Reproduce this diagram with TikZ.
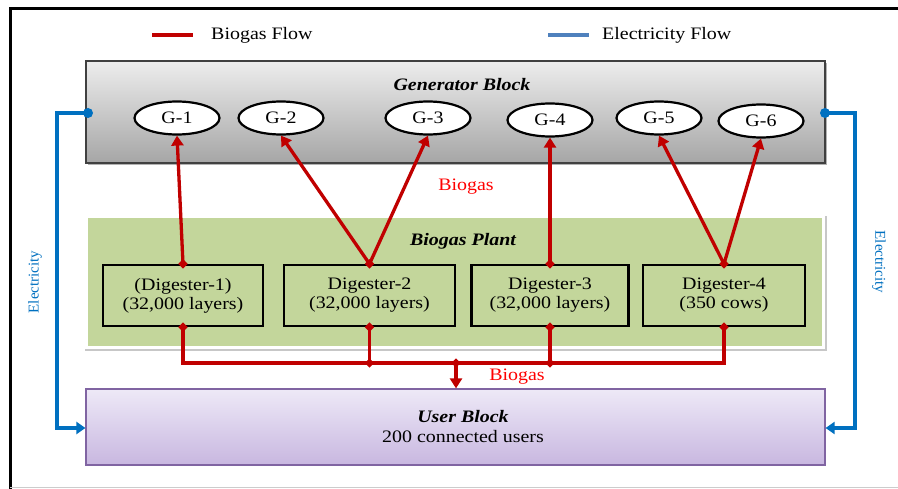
\documentclass[tikz,border=0pt]{standalone}
\usepackage{fontspec}
\setmainfont[FakeStretch=1.14]{Liberation Serif}
\newfontfamily\elfont{Liberation Serif}
\usetikzlibrary{arrows.meta,shapes.geometric}
\definecolor{bgred}{RGB}{192,0,0}
\definecolor{txtred}{RGB}{255,0,0}
\definecolor{elblue}{RGB}{0,112,192}
\definecolor{legblue}{RGB}{79,129,189}
\definecolor{plantgreen}{RGB}{195,214,155}
\definecolor{userborder}{RGB}{128,100,162}
\definecolor{usertop}{RGB}{238,233,247}
\definecolor{userbot}{RGB}{200,183,224}
\begin{document}
\begin{tikzpicture}[x=1pt,y=-1pt,
  txt/.style={font=\fontsize{17.5}{19}\selectfont, inner sep=0pt},
  ttl/.style={font=\fontsize{17.5}{19}\selectfont\bfseries\itshape, inner sep=0pt},
  gen/.style={ellipse, draw, line width=2.2pt, fill=white, minimum width=85pt, minimum height=33pt, inner sep=0pt, font=\fontsize{17.5}{19}\selectfont},
  dig/.style={rectangle, draw, line width=2.2pt, minimum height=61pt, align=center, inner sep=0pt, font=\fontsize{17.5}{19}\selectfont},
  jn/.style={diamond, fill=bgred, inner sep=0pt, minimum size=9.5pt},
  gas/.style={draw=bgred, line width=3.3pt},
  gasarrow/.style={gas, -{Triangle[length=10pt,width=12pt]}},
  elec/.style={draw=elblue, line width=3.2pt},
  elecarrow/.style={elec, -{Triangle[length=9pt,width=12pt]}},
  eltxt/.style={font=\elfont\fontsize{15}{17}\selectfont, text=elblue, inner sep=0pt}
]
\useasboundingbox (0,0) rectangle (898,489);
\fill[white] (0,0) rectangle (898,489);
% outer frame
\draw[line width=3pt] (10,489) -- (10,9) -- (898,9);
\draw[black!20, line width=1pt] (10,487.5) -- (898,487.5);

% legend
\draw[gas] (152,35) -- (193,35);
\node[txt, anchor=west] (legb) at (211,35) {Biogas Flow};
\draw[legblue, line width=3.3pt] (548,35) -- (589,35);
\node[txt, anchor=west] (lege) at (602,35) {Electricity Flow};

% generator block
\fill[black!30] (88,63) rectangle (827,165);
\node[draw=black!75, line width=1.2pt, top color=black!7, bottom color=black!35, minimum width=739pt, minimum height=102pt, inner sep=0pt] (genblk) at (455.5,112) {};
\node[ttl] (gentitle) at (462,85) {Generator Block};
\node[gen] (G1) at (177,118) {G-1};
\node[gen] (G2) at (281,118) {G-2};
\node[gen] (G3) at (428,118) {G-3};
\node[gen] (G4) at (550,120) {G-4};
\node[gen] (G5) at (659,118) {G-5};
\node[gen] (G6) at (761,121) {G-6};

% biogas plant
\fill[black!22] (85,216) rectangle (827,351);
\node[fill=white, minimum width=742pt, minimum height=135pt, inner sep=0pt] (plantframe) at (454,281.5) {};
\node[fill=plantgreen, minimum width=734pt, minimum height=128pt, inner sep=0pt] (plant) at (455,282) {};
\node[ttl] (planttitle) at (463,241) {Biogas Plant};
\node[dig, minimum width=160pt] (D1) at (183,295.5) {(Digester-1)\\(32,000 layers)};
\node[dig, minimum width=171pt] (D2) at (369.5,295.5) {Digester-2\\(32,000 layers)};
\node[dig, minimum width=157pt] (D3) at (550,295.5) {Digester-3\\(32,000 layers)};
\node[dig, minimum width=162pt] (D4) at (724,295.5) {Digester-4\\(350 cows)};

% user block
\node[draw=userborder, line width=1.2pt, top color=usertop, bottom color=userbot, minimum width=739pt, minimum height=76pt, inner sep=0pt] (user) at (455.5,427) {};
\node[ttl] (usertitle) at (463,417) {User Block};
\node[txt] (usertext) at (463,437) {200 connected users};

% biogas to generators
\draw[gasarrow] (D1.north) -- (G1.south);
\draw[gasarrow] (D2.north) -- (G2.south);
\draw[gasarrow] (D2.north) -- (G3.south);
\draw[gasarrow] (D3.north) -- (G4.south);
\draw[gasarrow] (D4.north) -- (G5.south);
\draw[gasarrow] (D4.north) -- (G6.south);
\node[txt, text=txtred] (bgl1) at (466,187) {Biogas};

% biogas bus to users
\coordinate (bus) at (456,363);
\draw[gas] (D1.south) |- (D4.south |- bus) -- (D4.south);
\draw[gas] (D2.south) -- (D2.south |- bus);
\draw[gas] (D3.south) -- (D3.south |- bus);
\draw[gasarrow] (bus) -- (user.north -| bus);
\node[txt, text=txtred] (bgl2) at (517,377) {Biogas};

% junction diamonds
\foreach \n in {D1,D2,D3,D4} {
  \node[jn] at (\n.north) {};
  \node[jn] at (\n.south) {};
}
\node[jn] at (D2.south |- bus) {};
\node[jn] at (D3.south |- bus) {};
\node[jn] at (bus) {};

% electricity
\node[circle, fill=elblue, minimum size=10pt, inner sep=0pt] (dl) at (88,113) {};
\node[circle, fill=elblue, minimum size=10pt, inner sep=0pt] (dr) at (825,113) {};
\coordinate (cl) at (57,428);
\coordinate (cr) at (855,428);
\draw[elecarrow] (dl.center) -| (cl) -- (user.west |- cl);
\draw[elecarrow] (dr.center) -| (cr) -- (user.east |- cr);
\node[eltxt, rotate=90] (ell) at (35,282) {Electricity};
\node[eltxt, rotate=-90] (elr) at (879,262) {Electricity};
\end{tikzpicture}
\end{document}
